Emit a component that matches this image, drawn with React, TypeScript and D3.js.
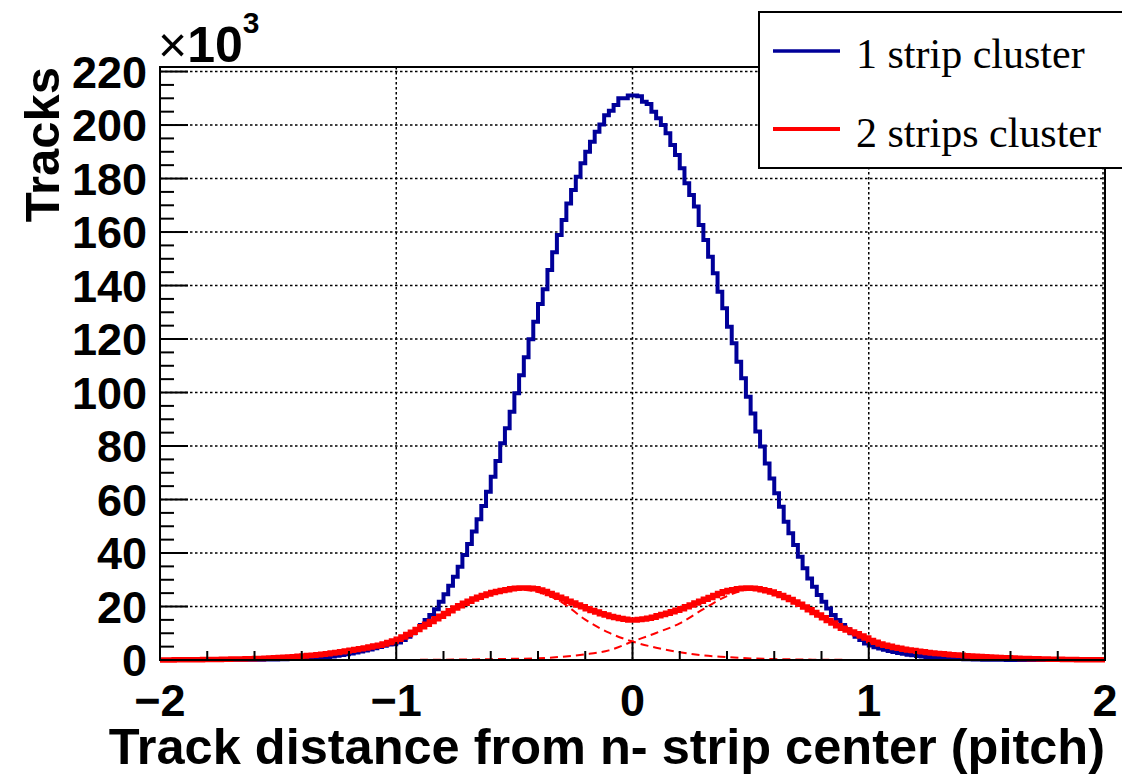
import React from "react";
import * as d3 from "d3";

// ---- data (values in units of 10^3 tracks) ----
const X_MIN = -2;
const X_MAX = 2;
const N_BINS = 200;
const Y_MAX = 221.7;

const oneStrip: number[] = [
  0, 0, 0, 0, 0, 0, 0, 0, 0.01, 0.01,
  0.02, 0.02, 0.03, 0.03, 0.04, 0.05, 0.05, 0.06, 0.07, 0.08,
  0.1, 0.12, 0.15, 0.18, 0.21, 0.25, 0.29, 0.33, 0.37, 0.41,
  0.45, 0.55, 0.65, 0.8, 0.95, 1.15, 1.35, 1.6, 1.85, 2.15,
  2.45, 2.8, 3.15, 3.55, 3.95, 4.4, 4.85, 5.3, 5.75, 5.9,
  6.5, 7.5, 8.7, 10.0, 11.5, 13.1, 15.0, 16.8, 19.0, 21.8,
  24.6, 27.8, 31.1, 34.9, 39.3, 43.4, 48.0, 52.6, 57.6, 62.9,
  68.5, 74.4, 81.0, 86.6, 92.8, 99.7, 106.5, 113.2, 119.9, 126.5,
  133.1, 138.6, 145.8, 152.4, 158.9, 164.5, 170.7, 175.7, 180.7, 185.7,
  190.0, 193.8, 197.5, 200.2, 203.7, 205.3, 207.5, 210.0, 210.0, 211.0,
  211.0, 210.8, 208.7, 207.9, 205.0, 202.5, 200.0, 196.9, 192.5, 188.8,
  183.8, 178.2, 173.8, 169.5, 162.6, 157.0, 150.8, 144.6, 137.7, 131.5,
  124.6, 118.4, 111.5, 105.3, 98.4, 92.2, 85.4, 79.8, 73.5, 67.9,
  62.3, 57.3, 51.7, 47.4, 43.0, 38.6, 34.3, 30.5, 27.4, 24.3,
  21.8, 19.3, 16.8, 15.0, 13.1, 11.5, 10.0, 8.7, 7.5, 6.2,
  5.4, 4.8, 4.3, 3.8, 3.4, 3.0, 2.6, 2.3, 2.0, 1.75,
  1.5, 1.3, 1.12, 0.96, 0.82, 0.7, 0.6, 0.5, 0.42, 0.35,
  0.29, 0.24, 0.2, 0.16, 0.13, 0.1, 0.08, 0.06, 0.05, 0.04,
  0.03, 0.02, 0.02, 0.01, 0.01, 0, 0, 0, 0, 0,
  0, 0, 0, 0, 0, 0, 0, 0, 0, 0,
];

const twoStrips: number[] = [
  0.02, 0.03, 0.04, 0.05, 0.06, 0.08, 0.1, 0.12, 0.14, 0.16,
  0.18, 0.2, 0.23, 0.26, 0.3, 0.34, 0.38, 0.42, 0.46, 0.5,
  0.55, 0.6, 0.66, 0.74, 0.82, 0.91, 1.0, 1.1, 1.22, 1.36,
  1.5, 1.65, 1.8, 1.98, 2.17, 2.38, 2.6, 2.84, 3.1, 3.35,
  3.6, 3.9, 4.2, 4.5, 4.85, 5.2, 5.55, 6.0, 6.5, 7.1,
  7.8, 8.6, 9.5, 10.4, 11.4, 12.4, 13.4, 14.4, 15.4, 16.4,
  17.4, 18.4, 19.4, 20.3, 21.2, 22.0, 22.8, 23.5, 24.1, 24.7,
  25.2, 25.6, 26.0, 26.3, 26.6, 26.8, 26.9, 26.9, 26.8, 26.6,
  26.2, 25.6, 24.9, 24.2, 23.5, 22.8, 22.0, 21.3, 20.6, 19.9,
  19.2, 18.5, 17.9, 17.3, 16.8, 16.3, 15.9, 15.5, 15.2, 15.0,
  15.0, 15.1, 15.3, 15.6, 16.0, 16.5, 17.0, 17.5, 18.0, 18.6,
  19.2, 19.9, 20.6, 21.3, 22.0, 22.7, 23.4, 24.1, 24.9, 25.5,
  26.0, 26.3, 26.6, 26.8, 26.9, 26.8, 26.6, 26.3, 25.9, 25.4,
  24.8, 24.1, 23.4, 22.6, 21.7, 20.8, 19.8, 18.8, 17.8, 16.8,
  15.8, 14.8, 13.8, 12.8, 11.9, 11.2, 10.5, 9.8, 9.0, 8.2,
  7.3, 6.6, 6.0, 5.5, 5.1, 4.7, 4.35, 4.05, 3.78, 3.52,
  3.28, 3.05, 2.84, 2.64, 2.46, 2.3, 2.15, 2.0, 1.87, 1.74,
  1.62, 1.51, 1.4, 1.3, 1.2, 1.11, 1.02, 0.94, 0.87, 0.8,
  0.73, 0.66, 0.6, 0.54, 0.48, 0.43, 0.38, 0.34, 0.3, 0.27,
  0.24, 0.21, 0.18, 0.16, 0.14, 0.12, 0.1, 0.08, 0.06, 0.05,
];

// fit components sampled at x = -2.0, -1.9, ..., 2.0
const compX: number[] = [
  -2.0, -1.9, -1.8, -1.7, -1.6, -1.5, -1.4, -1.3, -1.2, -1.1,
  -1.0, -0.9, -0.8, -0.7, -0.6, -0.5, -0.4, -0.3, -0.2, -0.1,
  0.0, 0.1, 0.2, 0.3, 0.4, 0.5, 0.6, 0.7, 0.8, 0.9,
  1.0, 1.1, 1.2, 1.3, 1.4, 1.5, 1.6, 1.7, 1.8, 1.9, 2.0,
];
const compLeft: number[] = [
  0, 0.08, 0.18, 0.34, 0.55, 0.91, 1.5, 2.38, 3.6, 5.2,
  7.8, 12.2, 17.4, 21.9, 24.9, 26.4, 25.4, 21.6, 15.1, 10.2,
  6.9, 4.6, 2.9, 1.7, 1.1, 0.6, 0.35, 0.2, 0.1, 0.05,
  0.02, 0, 0, 0, 0, 0, 0, 0, 0, 0, 0,
];
const compRight: number[] = [
  0, 0, 0, 0, 0, 0, 0, 0, 0, 0,
  0.02, 0.05, 0.1, 0.2, 0.3, 0.45, 0.65, 1.2, 2.1, 3.6,
  6.9, 10.1, 13.7, 19.0, 23.9, 26.3, 24.5, 20.6, 15.7, 11.2,
  7.3, 4.7, 3.28, 2.3, 1.62, 1.11, 0.73, 0.43, 0.24, 0.12, 0.05,
];

const yMajorTicks: number[] = [0, 20, 40, 60, 80, 100, 120, 140, 160, 180, 200, 220];
const xMajorTicks: number[] = [-2, -1, 0, 1, 2];
const xTickLabels: string[] = ["\u22122", "\u22121", "0", "1", "2"];
const legendLabels: string[] = ["1 strip cluster", "2 strips cluster"];

const BLUE = "#000099";
const RED = "#ff0000";
const SANS = "'Liberation Sans', Arial, sans-serif";
const SERIF = "'Liberation Serif', 'Times New Roman', serif";

export default function App() {
  const left = 160, right = 1105, top = 67, bottom = 660;
  const x = d3.scaleLinear().domain([X_MIN, X_MAX]).range([left, right]);
  const y = d3.scaleLinear().domain([0, Y_MAX]).range([bottom, top]);
  const bw = (X_MAX - X_MIN) / N_BINS;

  const stepPath = (vals: number[]) => {
    const pts: [number, number][] = vals.map((v, i) => [X_MIN + i * bw, v]);
    pts.push([X_MAX, vals[vals.length - 1]]);
    return d3
      .line<[number, number]>()
      .x((d) => x(d[0]))
      .y((d) => y(d[1]))
      .curve(d3.curveStepAfter)(pts) as string;
  };
  const smoothPath = (vals: number[]) =>
    d3
      .line<number>()
      .x((_, i) => x(compX[i]))
      .y((d) => y(d))
      .curve(d3.curveMonotoneX)(vals) as string;

  const yMinor = d3.range(0, Y_MAX, 5);
  const xMinor = d3.range(0, 21).map((i) => X_MIN + i * 0.2);

  return (
    <svg
      width={1122}
      height={774}
      style={{ position: "absolute", left: 0, top: 0, background: "#fff" }}
    >
      <rect x={0} y={0} width={1122} height={774} fill="#fff" />
      {/* grid */}
      <g stroke="#000" strokeWidth={1.5} strokeDasharray="2.5 2.5">
        {yMajorTicks.map((t) => (
          <line key={"gy" + t} x1={left} x2={right} y1={y(t)} y2={y(t)} />
        ))}
        {xMajorTicks.map((t) => (
          <line key={"gx" + t} x1={x(t) - (t === 2 ? 2 : 0)} x2={x(t) - (t === 2 ? 2 : 0)} y1={top} y2={bottom} />
        ))}
      </g>

      {/* histograms */}
      <path d={stepPath(oneStrip)} fill="none" stroke={BLUE} strokeWidth={4} />
      <path d={stepPath(twoStrips)} fill="none" stroke={RED} strokeWidth={5.5} />
      <path d={smoothPath(compLeft)} fill="none" stroke={RED} strokeWidth={2} strokeDasharray="8 5" />
      <path d={smoothPath(compRight)} fill="none" stroke={RED} strokeWidth={2} strokeDasharray="8 5" />

      {/* frame */}
      <rect x={left} y={top} width={right - left} height={bottom - top} fill="none" stroke="#000" strokeWidth={2} />

      {/* ticks */}
      <g stroke="#000" strokeWidth={2}>
        {yMinor.map((t) => (
          <line key={"ym" + t} x1={left} x2={left + (t % 20 === 0 ? 28 : 14)} y1={y(t)} y2={y(t)} />
        ))}
        {xMinor.map((t, i) => (
          <line key={"xm" + i} x1={x(t)} x2={x(t)} y1={bottom} y2={bottom - (i % 5 === 0 ? 18 : 9)} />
        ))}
      </g>

      {/* tick labels */}
      <g fontFamily={SANS} fontWeight="bold" fontSize={45} fill="#000">
        {yMajorTicks.map((t) => (
          <text key={"yl" + t} x={147} y={y(t) + 16} textAnchor="end">
            {t}
          </text>
        ))}
        {xMajorTicks.map((t, i) => (
          <text key={"xl" + t} x={x(t)} y={716} textAnchor="middle">
            {xTickLabels[i]}
          </text>
        ))}
      </g>

      {/* exponent */}
      <text x={158} y={62} fontFamily={SANS} fontSize={50} fill="#000">
        ×<tspan fontWeight="bold">10</tspan>
        <tspan fontSize={30} fontWeight="bold" dy={-29}>3</tspan>
      </text>

      {/* axis titles */}
      <text
        x={right}
        y={764}
        textAnchor="end"
        fontFamily={SANS}
        fontWeight="bold"
        fontSize={50.5}
        fill="#000"
      >
        Track distance from n- strip center (pitch)
      </text>
      <text
        transform={`translate(59, ${top}) rotate(-90)`}
        textAnchor="end"
        fontFamily={SANS}
        fontWeight="bold"
        fontSize={49}
        fill="#000"
      >
        Tracks
      </text>

      {/* legend */}
      <rect x={759} y={12} width={380} height={156} fill="#fff" stroke="#000" strokeWidth={2} />
      <line x1={773} x2={840} y1={51} y2={51} stroke={BLUE} strokeWidth={3.5} />
      <line x1={773} x2={840} y1={129} y2={129} stroke={RED} strokeWidth={4} />
      <text x={856} y={68} fontFamily={SERIF} fontSize={42} fill="#000">
        {legendLabels[0]}
      </text>
      <text x={856} y={147} fontFamily={SERIF} fontSize={42} fill="#000">
        {legendLabels[1]}
      </text>
    </svg>
  );
}
